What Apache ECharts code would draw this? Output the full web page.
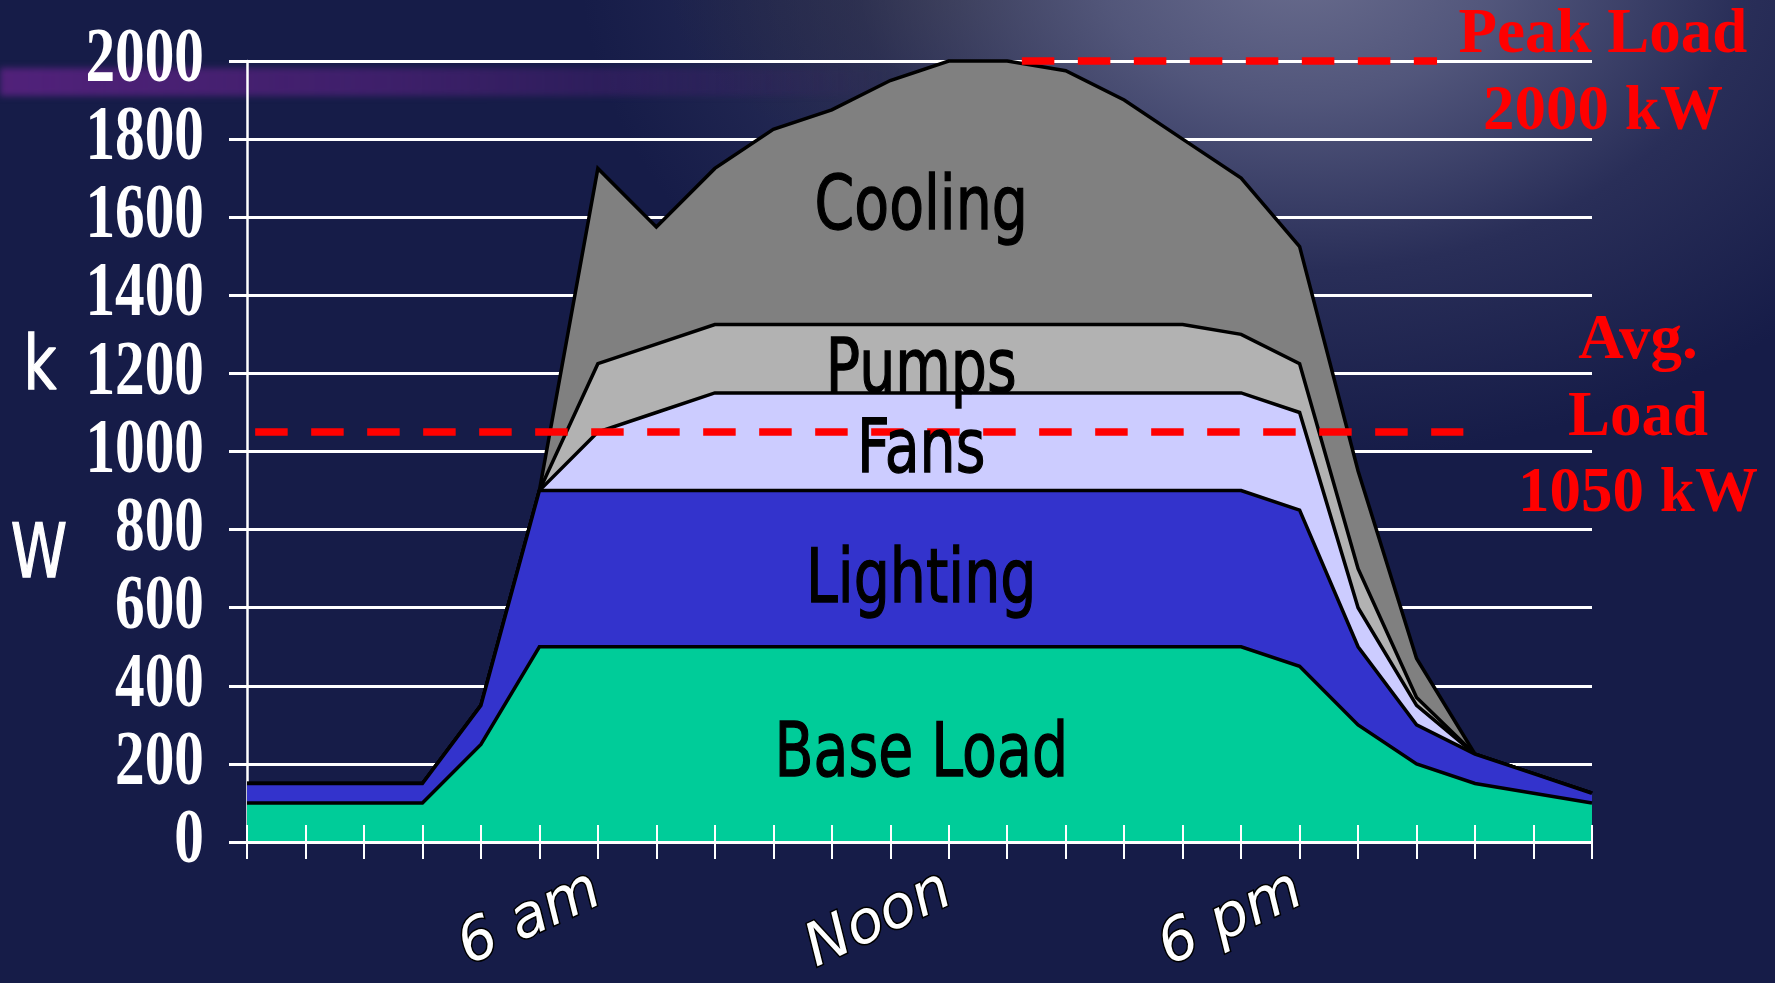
<!DOCTYPE html>
<html>
<head>
<meta charset="utf-8">
<title>Building Load Profile</title>
<script src="https://cdn.jsdelivr.net/npm/echarts@6/dist/echarts.min.js"></script>
<style>
  html, body { margin: 0; padding: 0; width: 1775px; height: 983px; overflow: hidden; background: #161c48; }
  #backdrop {
    position: absolute; left: 0; top: 0; width: 1775px; height: 983px;
    background:
      radial-gradient(ellipse 720px 500px at 1300px -40px, rgba(106,109,142,1) 0%, rgba(92,96,132,0.85) 28%, rgba(60,64,104,0.5) 62%, rgba(22,28,72,0) 100%),
      radial-gradient(ellipse 280px 170px at 950px -10px, rgba(36,36,46,0.9) 0%, rgba(36,36,46,0) 100%);
  }
  #streak {
    position: absolute; left: 0; top: 68px; width: 1000px; height: 28px;
    background: linear-gradient(to right, rgba(88,34,128,0.9) 0%, rgba(88,34,128,0.6) 40%, rgba(88,34,128,0) 90%);
    filter: blur(3px);
  }
  #chart { position: absolute; left: 0; top: 0; width: 1775px; height: 983px; }
</style>
</head>
<body>
<div id="backdrop"></div>
<div id="streak"></div>
<div id="chart"></div>
<script>
// Hour of day for each point (midnight = 0)
const hours = [0, 1, 2, 3, 4, 5, 6, 7, 8, 9, 10, 11, 12, 13, 14, 15, 16, 17, 18, 19, 20, 21, 22, 23];

// Load by end use, kW (stacked bottom to top)
const baseLoad = [100, 100, 100, 100, 250, 500, 500, 500, 500, 500, 500, 500, 500, 500, 500, 500, 500, 500, 450, 300, 200, 150, 125, 100];
const lighting = [50, 50, 50, 50, 100, 400, 400, 400, 400, 400, 400, 400, 400, 400, 400, 400, 400, 400, 400, 200, 100, 75, 50, 25];
const fans     = [0, 0, 0, 0, 0, 0, 150, 200, 250, 250, 250, 250, 250, 250, 250, 250, 250, 250, 250, 100, 50, 0, 0, 0];
const pumps    = [0, 0, 0, 0, 0, 0, 175, 175, 175, 175, 175, 175, 175, 175, 175, 175, 175, 150, 125, 100, 20, 0, 0, 0];
const cooling  = [0, 0, 0, 0, 0, 0, 500, 300, 400, 500, 550, 625, 675, 675, 650, 575, 475, 400, 300, 250, 100, 0, 0, 0];

// Reference levels, kW
const peakLoad = 2000;
const avgLoad = 1050;

// Axis labels
const yTickValues = [0, 200, 400, 600, 800, 1000, 1200, 1400, 1600, 1800, 2000];
const xLabelHours = [6, 12, 18];
const xLabelTexts = ['6 am', 'Noon', '6 pm'];

const layers = [
  { name: 'Base Load', values: baseLoad, color: '#00cc99' },
  { name: 'Lighting',  values: lighting, color: '#3333cc' },
  { name: 'Fans',      values: fans,     color: '#ccccff' },
  { name: 'Pumps',     values: pumps,    color: '#b2b2b2' },
  { name: 'Cooling',   values: cooling,  color: '#808080' }
];

const chart = echarts.init(document.getElementById('chart'), null, { renderer: 'canvas' });

const white = '#ffffff';

const areaSeries = layers.map((layer, i) => ({
  type: 'line',
  name: layer.name,
  stack: 'load',
  xAxisIndex: 0,
  // lower layers drawn last so every boundary keeps its full outline
  z: 10 - i,
  clip: false,
  silent: true,
  symbol: 'none',
  data: layer.values,
  lineStyle: { color: '#000000', width: 3.5, join: 'miter' },
  areaStyle: { color: layer.color, opacity: 1 }
}));

const dashStyle = { color: '#ff0000', width: 7.5, type: [32.5, 23.5], cap: 'butt' };

const refSeries = [
  {
    type: 'line', name: 'Peak', xAxisIndex: 1, z: 20, clip: false, silent: true, symbol: 'none',
    data: [[13.25, peakLoad], [20.35, peakLoad]],
    lineStyle: dashStyle
  },
  {
    type: 'line', name: 'Average', xAxisIndex: 1, z: 20, clip: false, silent: true, symbol: 'none',
    data: [[0.14, avgLoad], [20.8, avgLoad]],
    lineStyle: dashStyle
  }
];

chart.setOption({
  animation: false,
  backgroundColor: 'transparent',
  grid: { left: 247, right: 183, top: 61, bottom: 138, containLabel: false },
  xAxis: [
    {
      type: 'category', data: hours, boundaryGap: false, position: 'bottom', z: 30,
      splitLine: { show: false },
      axisLine: { show: true, lineStyle: { color: white, width: 2 } },
      axisTick: { show: true, interval: 0, length: 17, lineStyle: { color: white, width: 2 } },
      axisLabel: {
        show: true,
        interval: 0,
        rotate: 25,
        margin: 46,
        color: white,
        fontFamily: 'DejaVu Sans',
        fontStyle: 'italic',
        fontSize: 59,
        textBorderColor: '#000000',
        textBorderWidth: 3,
        formatter: function (v, idx) {
          const k = xLabelHours.indexOf(hours[idx]);
          return k >= 0 ? xLabelTexts[k] : '';
        }
      }
    },
    {
      // continuous hour scale: inner tick marks and the reference lines
      type: 'value', min: 0, max: 23, interval: 1, position: 'bottom', z: 30,
      splitLine: { show: false },
      axisLine: { show: false },
      axisTick: { show: true, inside: true, length: 17, lineStyle: { color: white, width: 2 } },
      axisLabel: { show: false }
    }
  ],
  yAxis: {
    type: 'value', min: 0, max: 2000, interval: 200,
    axisLine: { show: true, lineStyle: { color: white, width: 2.5 } },
    axisTick: { show: true, length: 18, lineStyle: { color: white, width: 3 } },
    splitLine: { show: true, lineStyle: { color: white, width: 3 } },
    // tick numbers are set in a narrow serif below
    axisLabel: { show: false }
  },
  series: areaSeries.concat(refSeries)
});

const toPixel = (xy) => chart.convertToPixel({ xAxisIndex: 1, yAxisIndex: 0 }, xy);

// Value-axis numbers: condensed bold serif, right-aligned left of the tick marks
const graphics = yTickValues.map(v => {
  const p = toPixel([0, v]);
  return {
    type: 'text', x: p[0] - 43, y: p[1], scaleX: 0.76, silent: true, z: 40,
    style: {
      text: String(v), fill: white,
      font: 'bold 78px "Liberation Serif"',
      textAlign: 'right', textVerticalAlign: 'middle'
    }
  };
});

// End-use names inside the bands
const bandLabels = [
  { text: 'Cooling',   at: [11.53, 1637] },
  { text: 'Pumps',     at: [11.53, 1220] },
  { text: 'Fans',      at: [11.53, 1016] },
  { text: 'Lighting',  at: [11.53, 683] },
  { text: 'Base Load', at: [11.53, 237] }
];

const sansText = (text, x, y, fill) => ({
  type: 'text', x: x, y: y + 7, scaleX: 0.76, silent: true, z: 40,
  style: {
    text: text, fill: fill,
    stroke: fill, lineWidth: 1.4,
    font: '75px "DejaVu Sans"',
    textAlign: 'center', textVerticalAlign: 'middle'
  }
});

bandLabels.forEach(b => {
  const p = toPixel(b.at);
  graphics.push(sansText(b.text, p[0], p[1], '#000000'));
});

// Unit, written down the left edge
graphics.push(sansText('k', 40, 363, white));
graphics.push(sansText('W', 39, 551, white));

// Reference captions
const serifCaption = (text, x, y) => ({
  type: 'text', x: x, y: y + 5, silent: true, z: 40,
  style: {
    text: text, fill: '#ff0000',
    font: 'bold 63px "Liberation Serif"',
    lineHeight: 76.5,
    textAlign: 'center', textVerticalAlign: 'middle'
  }
});

graphics.push(serifCaption('Peak Load\n' + peakLoad + ' kW', 1603, 69));
graphics.push(serifCaption('Avg.\nLoad\n' + avgLoad + ' kW', 1638, 413.5));

chart.setOption({ graphic: graphics });
</script>
</body>
</html>
